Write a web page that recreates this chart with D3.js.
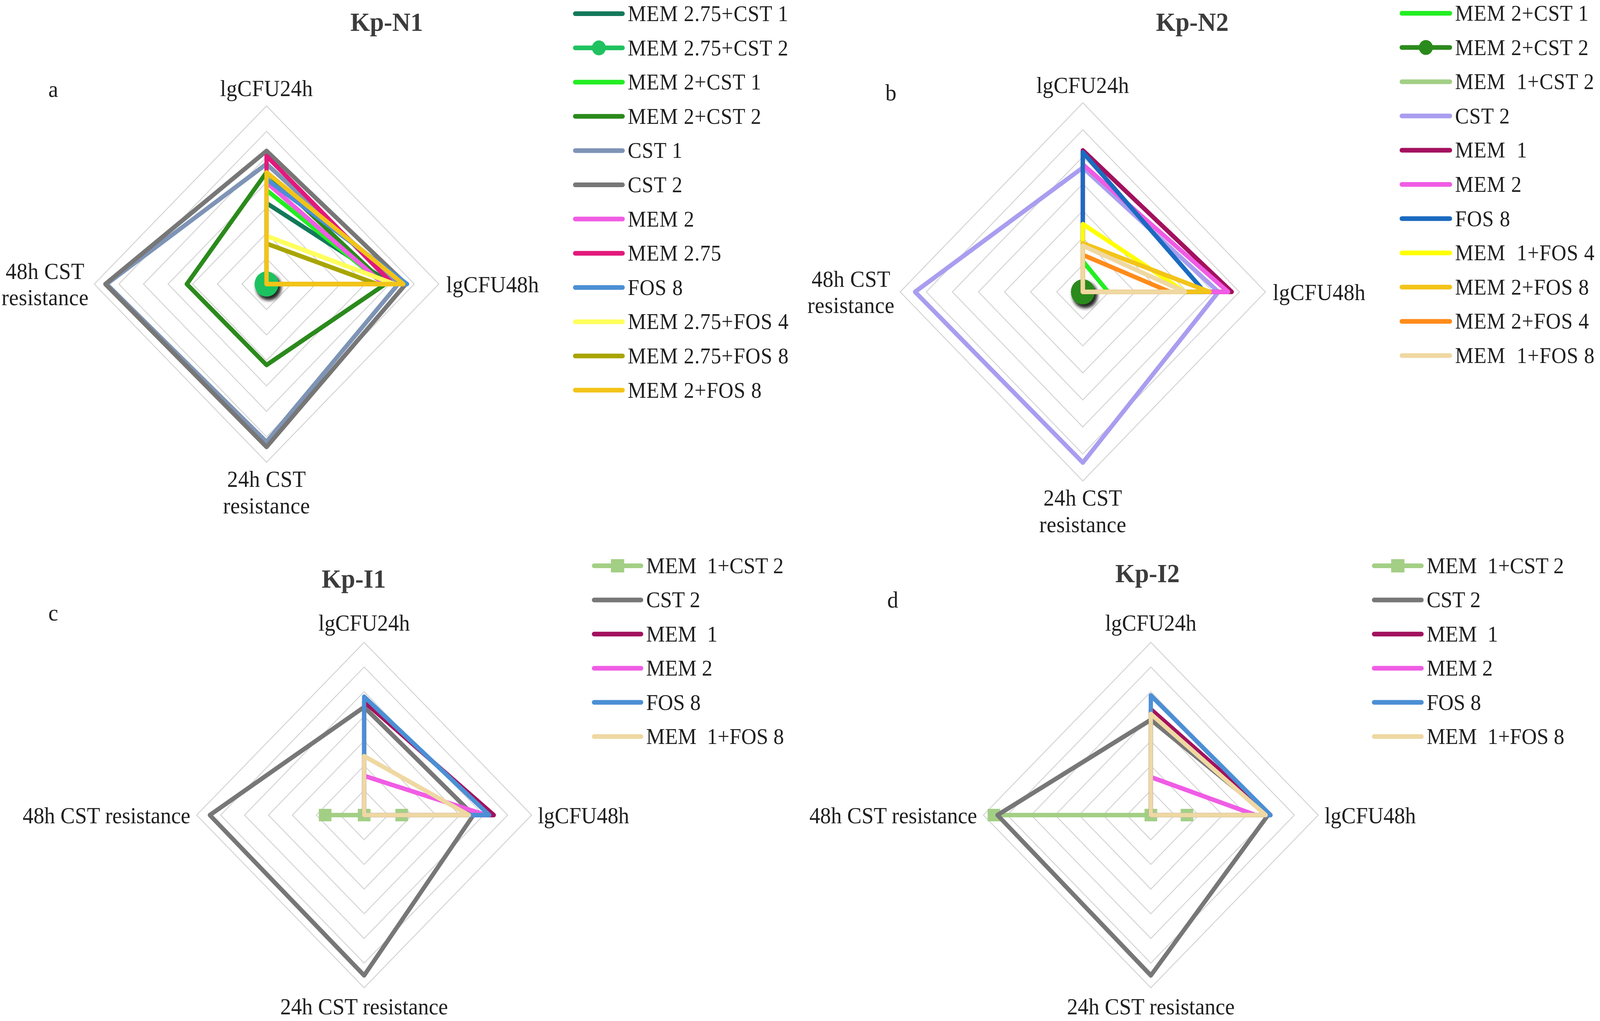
<!DOCTYPE html>
<html>
<head>
<meta charset="utf-8">
<script src="https://cdn.jsdelivr.net/npm/d3@7"></script>
<style>
  html, body { margin: 0; padding: 0; width: 100%; height: 100%; overflow: hidden; background: #fff; }
  #chart { width: 100vw; height: 100vh; }
  svg { display: block; width: 100%; height: 100%; }
  text { font-family: 'Liberation Serif', 'Times New Roman', 'DejaVu Serif', serif; fill: #1f1f1f; white-space: pre; }
</style>
</head>
<body>
<div id="chart"></div>
<script>
// axes, clockwise from the top
const axisLabels = ['lgCFU24h', 'lgCFU48h', '24h CST resistance', '48h CST resistance'];
const gridLevels = [1, 2, 3, 4, 5, 6, 7];

// Kp-N1
const n1Series = ['MEM 2.75+CST 1', 'MEM 2.75+CST 2', 'MEM 2+CST 1', 'MEM 2+CST 2', 'CST 1', 'CST 2',
  'MEM 2', 'MEM 2.75', 'FOS 8', 'MEM 2.75+FOS 4', 'MEM 2.75+FOS 8', 'MEM 2+FOS 8'];
const n1Values = [
  [3.18, 5.09, 0, 0],
  [0, 0, 0, 0],
  [3.69, 4.76, 0, 0],
  [4.39, 4.83, 3.18, 3.24],
  [4.72, 5.35, 6.2, 6.5],
  [5.23, 5.66, 6.4, 6.55],
  [3.99, 4.75, 0, 0],
  [5.03, 5.13, 0, 0],
  [4.12, 5.71, 0, 0],
  [1.89, 5.2, 0, 0],
  [1.59, 4.49, 0, 0],
  [4.39, 5.56, 0, 0]
];
const n1Colors = ['#13795b', '#1fc25f', '#23ee23', '#2b8a1c', '#7e94b6', '#777777',
  '#f05ce4', '#e2197b', '#4b8fd5', '#ffff5c', '#a9a500', '#f3c418'];
const n1Markers = ['', 'circle', '', '', '', '', '', '', '', '', '', ''];

// Kp-N2
const n2Series = ['MEM 2+CST 1', 'MEM 2+CST 2', 'MEM  1+CST 2', 'CST 2', 'MEM  1', 'MEM 2', 'FOS 8',
  'MEM  1+FOS 4', 'MEM 2+FOS 8', 'MEM 2+FOS 4', 'MEM  1+FOS 8'];
const n2Values = [
  [1.14, 0.97, 0, 0],
  [0, 0, 0, 0],
  [0, 0, 0, 0],
  [4.6, 5.2, 6.32, 6.43],
  [5.24, 5.71, 0, 0],
  [4.72, 5.57, 0, 0],
  [5.17, 4.67, 0, 0],
  [2.51, 3.91, 0, 0],
  [1.8, 4.86, 0, 0],
  [1.37, 3.34, 0, 0],
  [1.71, 3.91, 0, 0]
];
const n2Colors = ['#23ee23', '#2b8a1c', '#a3cf85', '#a99df0', '#a3115e', '#f05ce4', '#1b6bc0',
  '#ffff00', '#f3c418', '#ff8c1a', '#efd8a2'];
const n2Markers = ['', 'circle', '', '', '', '', '', '', '', '', ''];

// Kp-I1 and Kp-I2
const iSeries = ['MEM  1+CST 2', 'CST 2', 'MEM  1', 'MEM 2', 'FOS 8', 'MEM  1+FOS 8'];
const i1Values = [
  [0, 1.57, 0, 1.63],
  [4.38, 4.57, 6.5, 6.45],
  [4.6, 5.42, 0, 0],
  [1.59, 5.1, 0, 0],
  [4.8, 5.23, 0, 0],
  [2.39, 4.38, 0, 0]
];
const i2Values = [
  [0, 1.51, 0, 6.56],
  [3.86, 4.9, 6.5, 6.41],
  [4.29, 5.0, 0, 0],
  [1.54, 4.38, 0, 0],
  [4.85, 5.0, 0, 0],
  [4.1, 4.8, 0, 0]
];
const iColors = ['#a3cf85', '#777777', '#a3115e', '#f05ce4', '#4b8fd5', '#efd8a2'];
const iMarkers = ['square', '', '', '', '', ''];

const W = 4328, H = 2613;

const panels = [
  { title: 'Kp-N1', letter: 'a', names: n1Series, values: n1Values, colors: n1Colors, markers: n1Markers,
    cx: 721, cy: 727, rx: 466, ry: 456, titleX: 1046, titleY: 79, letterX: 144, letterY: 248,
    twoLine: true, legX: 1556, legY: 35, legStep: 87.6, legTextX: 1698, legLs: 1 },
  { title: 'Kp-N2', letter: 'b', names: n2Series, values: n2Values, colors: n2Colors, markers: n2Markers,
    cx: 2929, cy: 747, rx: 494, ry: 484, titleX: 3225, titleY: 79, letterX: 2410, letterY: 257,
    twoLine: true, legX: 3792, legY: 34, legStep: 87.6, legTextX: 3936, legLs: 1 },
  { title: 'Kp-I1', letter: 'c', names: iSeries, values: i1Values, colors: iColors, markers: iMarkers,
    cx: 985, cy: 2086, rx: 453, ry: 442, titleX: 957, titleY: 1504, letterX: 144, letterY: 1588,
    twoLine: false, legX: 1607, legY: 1448, legStep: 87.4, legTextX: 1748, legLs: 0 },
  { title: 'Kp-I2', letter: 'd', names: iSeries, values: i2Values, colors: iColors, markers: iMarkers,
    cx: 3113, cy: 2086, rx: 453, ry: 442, titleX: 3104, titleY: 1490, letterX: 2415, letterY: 1555,
    twoLine: false, legX: 3717, legY: 1448, legStep: 87.4, legTextX: 3859, legLs: 0 }
];

// fill the whole window, whatever its size in css pixels
const svg = d3.select('#chart')
  .append('svg')
  .attr('viewBox', [0, 0, W, H])
  .attr('preserveAspectRatio', 'none');

svg.append('rect').attr('width', W).attr('height', H).attr('fill', '#fff');

svg.append('defs')
  .append('filter')
  .attr('id', 'shadow')
  .attr('x', '-60%').attr('y', '-60%').attr('width', '220%').attr('height', '220%')
  .append('feDropShadow')
  .attr('dx', 6).attr('dy', 8).attr('stdDeviation', 5)
  .attr('flood-color', '#000').attr('flood-opacity', 0.4);

const angle = d3.scaleLinear().domain([0, axisLabels.length]).range([0, 2 * Math.PI]);
const closed = d3.line().curve(d3.curveLinearClosed);

const drawPanel = (p) => {
  const g = svg.append('g');
  const rX = d3.scaleLinear().domain([0, 7]).range([0, p.rx]);
  const rY = d3.scaleLinear().domain([0, 7]).range([0, p.ry]);
  const pt = (v, i) => [p.cx + rX(v) * Math.sin(angle(i)), p.cy - rY(v) * Math.cos(angle(i))];

  // grid rings
  g.selectAll('path.grid')
    .data(gridLevels)
    .join('path')
    .attr('class', 'grid')
    .attr('d', (lv) => closed(axisLabels.map((a, i) => pt(lv, i))))
    .attr('fill', 'none')
    .attr('stroke', '#d4d4d4')
    .attr('stroke-width', 2.5);

  // series
  p.values.forEach((vals, s) => {
    const pts = vals.map(pt);
    g.append('path')
      .attr('d', closed(pts))
      .attr('fill', 'none')
      .attr('stroke', p.colors[s])
      .attr('stroke-width', 11.5)
      .attr('stroke-linejoin', 'round');
    if (p.markers[s] === 'circle') {
      g.selectAll(null)
        .data(pts)
        .join('circle')
        .attr('cx', (d) => d[0])
        .attr('cy', (d) => d[1])
        .attr('r', 32)
        .attr('fill', p.colors[s])
        .attr('filter', 'url(#shadow)');
    } else if (p.markers[s] === 'square') {
      g.selectAll(null)
        .data(pts)
        .join('rect')
        .attr('x', (d) => d[0] - 17)
        .attr('y', (d) => d[1] - 16)
        .attr('width', 34)
        .attr('height', 32)
        .attr('fill', p.colors[s]);
    }
  });

  // axis labels
  const lab = (x, y, txt, anchor) =>
    g.append('text')
      .attr('x', x).attr('y', y)
      .attr('text-anchor', anchor)
      .attr('font-size', 58.5)
      .attr('letter-spacing', p.twoLine ? 0.5 : 0)
      .text(txt);

  lab(p.cx, p.cy - p.ry - (p.twoLine ? 25 : 30), axisLabels[0], 'middle');
  lab(p.cx + p.rx + (p.twoLine ? 20 : 17), p.cy + 21, axisLabels[1], 'start');
  if (p.twoLine) {
    const [b1, b2] = [axisLabels[2].slice(0, 7), axisLabels[2].slice(8)];
    lab(p.cx, p.cy + p.ry + 63, b1, 'middle');
    lab(p.cx, p.cy + p.ry + 131, b2, 'middle');
    const lx = p.cx - p.rx - 18 - 115;
    lab(lx, p.cy - 13, axisLabels[3].slice(0, 7), 'middle');
    lab(lx, p.cy + 54, axisLabels[3].slice(8), 'middle');
  } else {
    lab(p.cx, p.cy + p.ry + 68, axisLabels[2], 'middle');
    lab(p.cx - p.rx - 17, p.cy + 21, axisLabels[3], 'end');
  }

  // title and panel letter
  g.append('text')
    .attr('x', p.titleX).attr('y', p.titleY)
    .attr('text-anchor', 'middle')
    .attr('font-size', 68)
    .attr('font-weight', 'bold')
    .style('fill', '#3c3c3c')
    .text(p.title);
  g.append('text')
    .attr('x', p.letterX).attr('y', p.letterY)
    .attr('text-anchor', 'middle')
    .attr('font-size', 60)
    .text(p.letter);

  // legend
  const leg = g.selectAll('g.leg')
    .data(p.names)
    .join('g')
    .attr('class', 'leg')
    .attr('transform', (d, i) => `translate(0,${p.legY + i * p.legStep})`);
  const lx1 = p.legX, lx2 = p.legTextX - 14;
  leg.append('line')
    .attr('x1', lx1).attr('x2', lx2)
    .attr('stroke', (d, i) => p.colors[i])
    .attr('stroke-width', 12)
    .attr('stroke-linecap', 'round');
  leg.filter((d, i) => p.markers[i] === 'circle')
    .append('circle')
    .attr('cx', (lx1 + lx2) / 2)
    .attr('r', 19)
    .attr('fill', (d) => p.colors[p.names.indexOf(d)]);
  leg.filter((d, i) => p.markers[i] === 'square')
    .append('rect')
    .attr('x', (lx1 + lx2) / 2 - 18).attr('y', -17)
    .attr('width', 36).attr('height', 34)
    .attr('fill', (d) => p.colors[p.names.indexOf(d)]);
  leg.append('text')
    .attr('x', p.legTextX)
    .attr('y', 19)
    .attr('font-size', p.twoLine ? 56 : 57)
    .attr('letter-spacing', p.legLs)
    .text((d) => d);
};

panels.forEach(drawPanel);
</script>
</body>
</html>
